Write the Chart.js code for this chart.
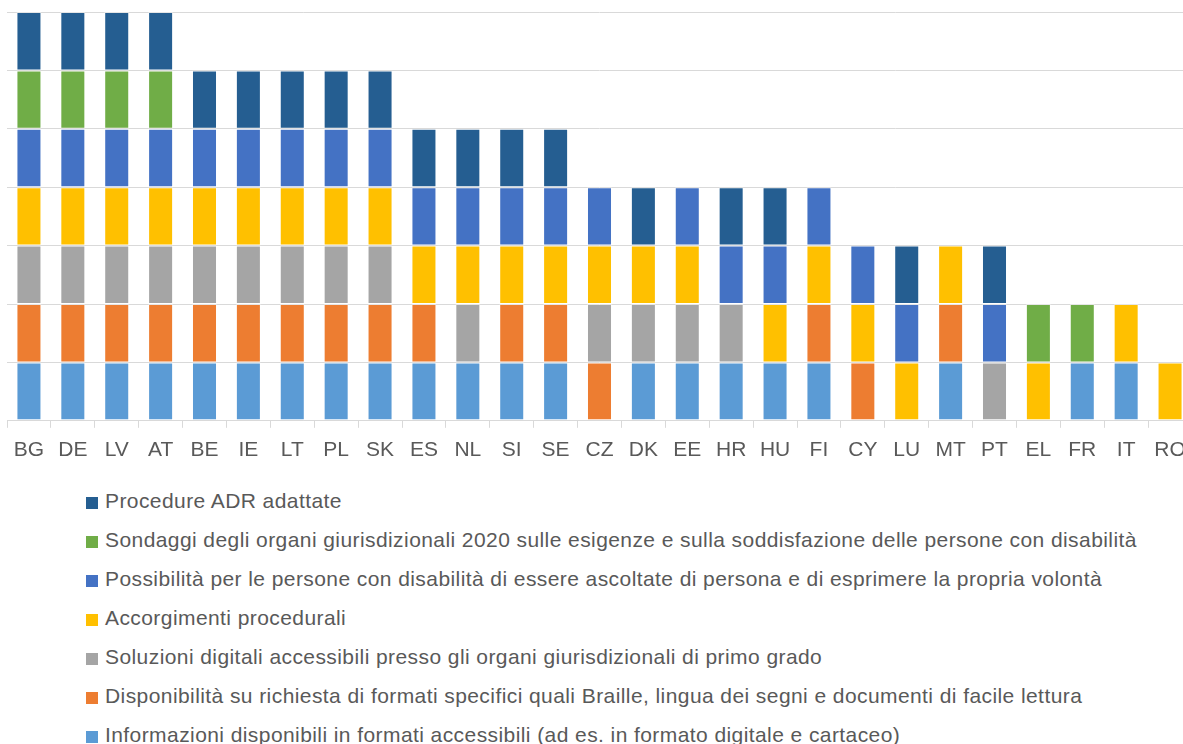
<!DOCTYPE html>
<html>
<head>
<meta charset="utf-8">
<script src="https://cdn.jsdelivr.net/npm/chart.js@4/dist/chart.umd.min.js"></script>
<style>
  html, body { margin: 0; padding: 0; background: #fff; overflow: hidden; }
  #wrap { position: relative; width: 1200px; height: 473px; }
  #legend { position: absolute; left: 86px; top: 481px; font-family: "Liberation Sans", Arial, sans-serif; font-size: 21px; letter-spacing: 0.42px; color: #595959; }
  #legend .row { height: 39px; line-height: 39px; white-space: nowrap; }
  #legend .box { display: inline-block; width: 12px; height: 12px; margin-right: 7px; vertical-align: -1px; }
</style>
</head>
<body>
<div id="wrap"><canvas id="chart" width="1200" height="473"></canvas></div>
<div id="legend"></div>
<script>
// paesi
const paesi = ['BG', 'DE', 'LV', 'AT', 'BE', 'IE', 'LT', 'PL', 'SK', 'ES', 'NL', 'SI', 'SE', 'CZ',
               'DK', 'EE', 'HR', 'HU', 'FI', 'CY', 'LU', 'MT', 'PT', 'EL', 'FR', 'IT', 'RO'];

// 1 = misura presente, 0 = assente (dal basso verso l'alto)
const informazioni  = [1,1,1,1,1,1,1,1,1,1,1,1,1,0,1,1,1,1,1,0,0,1,0,0,1,1,0];
const disponibilita = [1,1,1,1,1,1,1,1,1,1,0,1,1,1,0,0,0,0,1,1,0,1,0,0,0,0,0];
const soluzioni     = [1,1,1,1,1,1,1,1,1,0,1,0,0,1,1,1,1,0,0,0,0,0,1,0,0,0,0];
const accorgimenti  = [1,1,1,1,1,1,1,1,1,1,1,1,1,1,1,1,0,1,1,1,1,1,0,1,0,1,1];
const possibilita   = [1,1,1,1,1,1,1,1,1,1,1,1,1,1,0,1,1,1,1,1,1,0,1,0,0,0,0];
const sondaggi      = [1,1,1,1,0,0,0,0,0,0,0,0,0,0,0,0,0,0,0,0,0,0,0,1,1,0,0];
const procedureADR  = [1,1,1,1,1,1,1,1,1,1,1,1,1,0,1,0,1,1,0,0,1,0,1,0,0,0,0];

const serie = [
    { label: 'Informazioni disponibili in formati accessibili (ad es. in formato digitale e cartaceo)', data: informazioni, color: '#5B9BD5' },
    { label: 'Disponibilità su richiesta di formati specifici quali Braille, lingua dei segni e documenti di facile lettura', data: disponibilita, color: '#ED7D31' },
    { label: 'Soluzioni digitali accessibili presso gli organi giurisdizionali di primo grado', data: soluzioni, color: '#A5A5A5' },
    { label: 'Accorgimenti procedurali', data: accorgimenti, color: '#FFC000' },
    { label: 'Possibilità per le persone con disabilità di essere ascoltate di persona e di esprimere la propria volontà', data: possibilita, color: '#4472C4' },
    { label: 'Sondaggi degli organi giurisdizionali 2020 sulle esigenze e sulla soddisfazione delle persone con disabilità', data: sondaggi, color: '#70AD47' },
    { label: 'Procedure ADR adattate', data: procedureADR, color: '#255E91' },
];

const ctx = document.getElementById('chart').getContext('2d');
const myChart = new Chart(ctx, {
    type: 'bar',
    data: {
        labels: paesi,
        datasets: serie.map(s => ({
            label: s.label,
            data: s.data.map(v => v ? v : null),
            backgroundColor: s.color,
            borderColor: 'rgba(255,255,255,0.35)',
            borderWidth: 1,
            borderSkipped: false,
            categoryPercentage: 0.57,
            barPercentage: 1,
        })),
    },
    options: {
        responsive: false,
        animation: false,
        devicePixelRatio: 1,
        layout: { padding: { left: 7, right: 8, top: 12, bottom: 0 } },
        plugins: {
            legend: { display: false },
            tooltip: { enabled: false },
        },
        scales: {
            x: {
                stacked: true,
                grid: { drawOnChartArea: false, color: '#D9D9D9', tickLength: 7 },
                border: { color: '#D9D9D9' },
                ticks: { color: '#595959', font: { family: '"Liberation Sans", Arial, sans-serif', size: 21 }, padding: 10, maxRotation: 0, autoSkip: false },
            },
            y: {
                stacked: true,
                min: 0,
                max: 7,
                grid: { color: '#D9D9D9', drawTicks: false },
                border: { display: false },
                ticks: { display: false, stepSize: 1 },
            },
        },
    },
});

// legenda HTML, ordine inverso
const legend = document.getElementById('legend');
serie.slice().reverse().forEach(s => {
    const row = document.createElement('div');
    row.className = 'row';
    const box = document.createElement('span');
    box.className = 'box';
    box.style.background = s.color;
    row.appendChild(box);
    row.appendChild(document.createTextNode(s.label));
    legend.appendChild(row);
});
</script>
</body>
</html>
